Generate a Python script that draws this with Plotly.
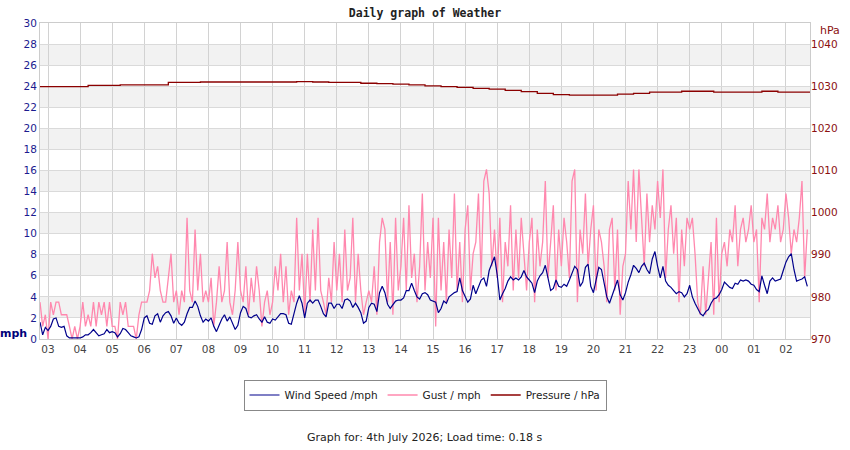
import pandas as pd
import plotly.graph_objects as go

# ---------------- data ----------------
start = "2026-07-03 02:45"
hour_ticks = ["03", "04", "05", "06", "07", "08", "09", "10", "11", "12", "13", "14",
              "15", "16", "17", "18", "19", "20", "21", "22", "23", "00", "01", "02"]

wind_mph = [
    1.6, 0.4, 1.1,
    0.8, 1.2, 1.9, 2.0, 1.2, 1.1, 1.2, 0.3, 0.1, 0.1, 0.1, 0.1,
    0.1, 0.2, 0.4, 0.4, 0.6, 0.9, 0.6, 0.3, 0.4, 0.5, 0.9, 0.6,
    0.7, 0.6, 0.2, 0.5, 1.0, 0.9, 0.6, 0.3, 0.2, 0.1, 0.2, 0.9,
    2.0, 2.2, 1.5, 1.4, 2.2, 2.4, 1.6, 2.2, 2.5, 2.6, 2.2, 1.5,
    2.0, 1.5, 1.3, 1.6, 2.4, 3.0, 3.0, 3.6, 3.1, 2.2, 1.6, 1.9,
    1.7, 2.0, 1.2, 0.7, 1.3, 1.9, 2.3, 1.7, 2.1, 1.5, 0.9, 1.3,
    2.5, 3.1, 2.9, 2.1, 2.0, 2.2, 2.3, 1.9, 1.6, 2.1, 1.6, 1.5,
    1.9, 1.8, 2.1, 2.4, 2.4, 2.3, 1.5, 1.4, 2.4, 3.4, 4.1, 3.4,
    2.0, 3.4, 3.7, 3.4, 3.7, 3.7, 3.1, 2.4, 2.1, 3.4, 3.4, 2.9,
    3.3, 3.3, 2.9, 3.7, 3.8, 3.6, 3.0, 3.4, 3.0, 2.5, 1.5, 1.7,
    3.0, 3.4, 3.3, 2.6, 4.4, 5.0, 4.4, 3.3, 2.9, 3.3, 3.6, 3.7,
    3.7, 3.9, 4.6, 4.6, 5.3, 4.6, 4.0, 3.8, 4.3, 4.4, 4.2, 3.7,
    3.6, 3.5, 2.5, 2.9, 3.6, 3.4, 4.0, 4.2, 4.4, 4.5, 5.8, 4.6,
    4.0, 3.5, 3.8, 5.1, 4.3, 5.0, 5.6, 5.8, 5.0, 6.5, 7.2, 7.8,
    6.1, 3.7, 4.3, 4.8, 5.5, 5.9, 5.6, 5.8, 5.6, 5.9, 6.5, 5.9,
    5.6, 5.3, 4.4, 5.5, 6.0, 6.3, 7.0, 5.9, 4.6, 4.8, 5.6, 5.0,
    4.9, 5.2, 5.0, 5.6, 6.3, 6.9, 6.6, 5.0, 5.4, 6.8, 7.1, 5.0,
    4.4, 5.6, 6.8, 6.6, 5.3, 4.0, 3.4, 4.2, 4.9, 5.6, 4.2, 3.7,
    4.4, 5.4, 6.1, 7.0, 6.7, 6.3, 6.9, 7.2, 6.6, 6.2, 7.6, 8.3,
    6.9, 5.8, 6.9, 5.5, 5.1, 4.9, 4.6, 4.3, 4.5, 4.4, 4.0, 4.3,
    5.1, 4.0, 3.4, 2.9, 2.4, 2.2, 2.6, 2.8, 3.4, 3.8, 3.9, 4.2,
    4.7, 5.4, 5.1, 4.9, 4.8, 5.3, 5.2, 5.6, 5.5, 5.6, 5.5, 5.2,
    5.1, 4.7, 4.5, 6.0, 5.1, 4.3, 5.5, 5.8, 5.5, 5.6, 5.7, 6.5,
    7.3, 7.8, 8.1, 6.6, 5.5, 5.6, 5.7, 5.9, 5.0,
]

gust_mph = [
    3.5, 1.2, 2.3,
    0.0, 3.5, 2.3, 3.5, 3.5, 2.3, 2.3, 2.3, 1.2, 0.0, 1.2, 0.0,
    1.2, 3.5, 1.2, 2.3, 1.2, 3.5, 1.2, 3.5, 2.3, 3.5, 1.2, 3.5,
    1.2, 1.2, 0.0, 3.5, 2.3, 3.5, 1.2, 1.2, 1.2, 0.0, 2.3, 3.5,
    3.5, 3.5, 4.6, 8.1, 5.8, 6.9, 4.6, 3.5, 3.5, 5.8, 8.1, 3.5,
    4.6, 2.3, 4.6, 3.5, 11.5, 4.6, 3.5, 10.4, 4.6, 8.1, 3.5, 4.6,
    3.5, 5.8, 1.2, 3.5, 6.9, 3.5, 4.6, 9.2, 3.5, 2.3, 4.6, 9.2,
    4.6, 3.5, 6.9, 2.3, 5.8, 3.5, 6.9, 4.6, 1.2, 3.5, 4.6, 2.3,
    3.5, 6.9, 4.6, 8.1, 3.5, 6.9, 2.3, 4.6, 3.5, 11.5, 4.6, 8.1,
    2.3, 8.1, 3.5, 10.4, 4.6, 11.5, 4.6, 3.5, 2.3, 5.8, 3.5, 9.2,
    4.6, 8.1, 3.5, 10.4, 4.6, 5.8, 11.5, 3.5, 8.1, 4.6, 2.3, 3.5,
    4.6, 3.5, 6.9, 2.3, 9.2, 11.5, 10.4, 3.5, 9.2, 2.3, 11.5, 4.6,
    6.9, 11.5, 4.6, 12.7, 5.8, 8.1, 3.5, 6.9, 13.8, 4.6, 9.2, 5.8,
    11.5, 1.2, 11.5, 4.6, 9.2, 3.5, 10.4, 5.8, 13.8, 4.6, 9.2, 3.5,
    10.4, 12.7, 4.6, 8.1, 9.2, 13.8, 5.8, 15.0, 16.1, 13.8, 6.9, 10.4,
    5.8, 11.5, 3.5, 9.2, 6.9, 12.7, 4.6, 10.4, 5.8, 11.5, 8.1, 4.6,
    9.2, 11.5, 3.5, 10.4, 6.9, 9.2, 15.0, 5.8, 9.2, 12.7, 4.6, 10.4,
    6.9, 11.5, 9.2, 5.8, 15.0, 16.1, 3.5, 10.4, 8.1, 13.8, 6.9, 10.4,
    12.7, 4.6, 10.4, 9.2, 6.9, 3.5, 10.4, 11.5, 4.6, 10.4, 2.3, 6.9,
    8.1, 15.0, 10.4, 16.1, 9.2, 16.1, 11.5, 6.9, 13.8, 9.2, 12.7, 10.4,
    15.0, 11.5, 16.1, 5.8, 10.4, 12.7, 8.1, 11.5, 3.5, 10.4, 6.9, 11.5,
    10.4, 11.5, 8.1, 3.5, 2.3, 6.9, 2.3, 5.8, 9.2, 2.3, 11.5, 3.5,
    8.1, 9.2, 6.9, 10.4, 9.2, 12.7, 6.9, 10.4, 11.5, 9.2, 10.4, 12.7,
    9.2, 10.4, 3.5, 11.5, 10.4, 13.8, 9.2, 11.5, 10.4, 12.7, 9.2, 10.4,
    13.8, 11.5, 8.1, 10.4, 9.2, 11.5, 15.0, 5.8, 10.4,
]

pressure_hpa = [
    1029.9, 1029.9, 1029.9, 1030.2, 1030.2, 1030.3, 1030.3, 1030.3, 1030.9, 1030.9,
    1031.0, 1031.0, 1031.0, 1031.0, 1031.0, 1031.0, 1031.1, 1031.0, 1030.9, 1030.9,
    1030.7, 1030.6, 1030.5, 1030.3, 1030.1, 1029.9, 1029.7, 1029.5, 1029.3, 1029.0,
    1028.7, 1028.3, 1028.0, 1027.9, 1027.9, 1027.9, 1028.1, 1028.3, 1028.6, 1028.6,
    1028.8, 1028.8, 1028.6, 1028.6, 1028.6, 1028.8, 1028.6, 1028.6, 1028.6,
]

mph_ticks = list(range(0, 31, 2))
hpa_ticks = list(range(970, 1041, 10))

# ---------------- build ----------------
t5 = pd.date_range(start, periods=len(wind_mph), freq="5min")
t30 = pd.date_range(start, periods=len(pressure_hpa), freq="30min")
x0 = pd.Timestamp(start)
x1 = x0 + pd.Timedelta(hours=24)
tick_times = pd.date_range("2026-07-03 03:00", periods=len(hour_ticks), freq="1h")

NAVY = "#1b1b8f"
RED = "#8b1010"
PINK = "#ff88ae"

fig = go.Figure()
fig.add_trace(go.Scatter(x=t5, y=gust_mph, mode="lines", name="Gust / mph",
                         line=dict(color=PINK, width=1.3), legendrank=2))
fig.add_trace(go.Scatter(x=t5, y=wind_mph, mode="lines", name="Wind Speed /mph",
                         line=dict(color="#00008b", width=1.2), legendrank=1))
fig.add_trace(go.Scatter(x=t30, y=pressure_hpa, mode="lines", name="Pressure / hPa",
                         line=dict(color="#8b0000", width=1.3, shape="hv"),
                         yaxis="y2", legendrank=3))

# alternating bands
for lo in mph_ticks[1:-1:2]:
    fig.add_shape(type="rect", xref="paper", yref="y", x0=0, x1=1, y0=lo, y1=lo + 2,
                  fillcolor="#f2f2f2", line_width=0, layer="below")

fig.update_layout(
    width=850, height=450,
    margin=dict(l=40, r=38, t=23, b=111),
    paper_bgcolor="white", plot_bgcolor="white",
    font=dict(family="DejaVu Sans", size=11, color="#333"),
    title=dict(text="<b>Daily graph of Weather</b>", x=0.5, xanchor="center",
               y=(450 - 13) / 450, yanchor="middle",
               font=dict(family="DejaVu Sans Mono", size=11.5, color="#222")),
    xaxis=dict(type="date", range=[x0, x1], tickvals=tick_times, ticktext=hour_ticks,
               showgrid=True, gridcolor="#d2d2d2", gridwidth=1,
               showline=True, linecolor="#cccccc", mirror=True,
               ticks="", tickfont=dict(family="DejaVu Sans", size=10.5, color="#444"),
               zeroline=False),
    yaxis=dict(range=[0, 30], tickvals=mph_ticks, showgrid=True, gridcolor="#dadada",
               showline=True, linecolor="#cccccc", mirror=True, zeroline=False,
               ticks="", tickfont=dict(family="DejaVu Sans", size=10.5, color=NAVY)),
    yaxis2=dict(range=[970, 1045], tickvals=hpa_ticks, overlaying="y", side="right",
                showgrid=False, zeroline=False, ticks="",
                tickfont=dict(family="DejaVu Sans", size=10.5, color=RED)),
    legend=dict(orientation="h", x=0.5, xanchor="center", y=(339 - 395) / 316,
                yanchor="middle", bordercolor="#888888", borderwidth=1,
                font=dict(family="DejaVu Sans", size=10.5, color="#222"),
                itemwidth=30, traceorder="normal"),
    showlegend=True,
)

fig.add_annotation(text="<b>mph</b>", xref="paper", yref="paper",
                   x=(13 - 40) / 772, y=(339 - 333) / 316, showarrow=False,
                   xanchor="center", yanchor="middle",
                   font=dict(family="DejaVu Sans", size=11, color="#00007a"))
fig.add_annotation(text="hPa", xref="paper", yref="paper",
                   x=(832 - 40) / 772, y=(339 - 30) / 316, showarrow=False,
                   xanchor="center", yanchor="middle",
                   font=dict(family="DejaVu Sans", size=11, color=RED))
fig.add_annotation(text="Graph for: 4th July 2026; Load time: 0.18 s", xref="paper", yref="paper",
                   x=0.5, y=(339 - 438) / 316, showarrow=False,
                   xanchor="center", yanchor="middle",
                   font=dict(family="DejaVu Sans", size=11, color="#222"))

fig.write_html("out.html")
